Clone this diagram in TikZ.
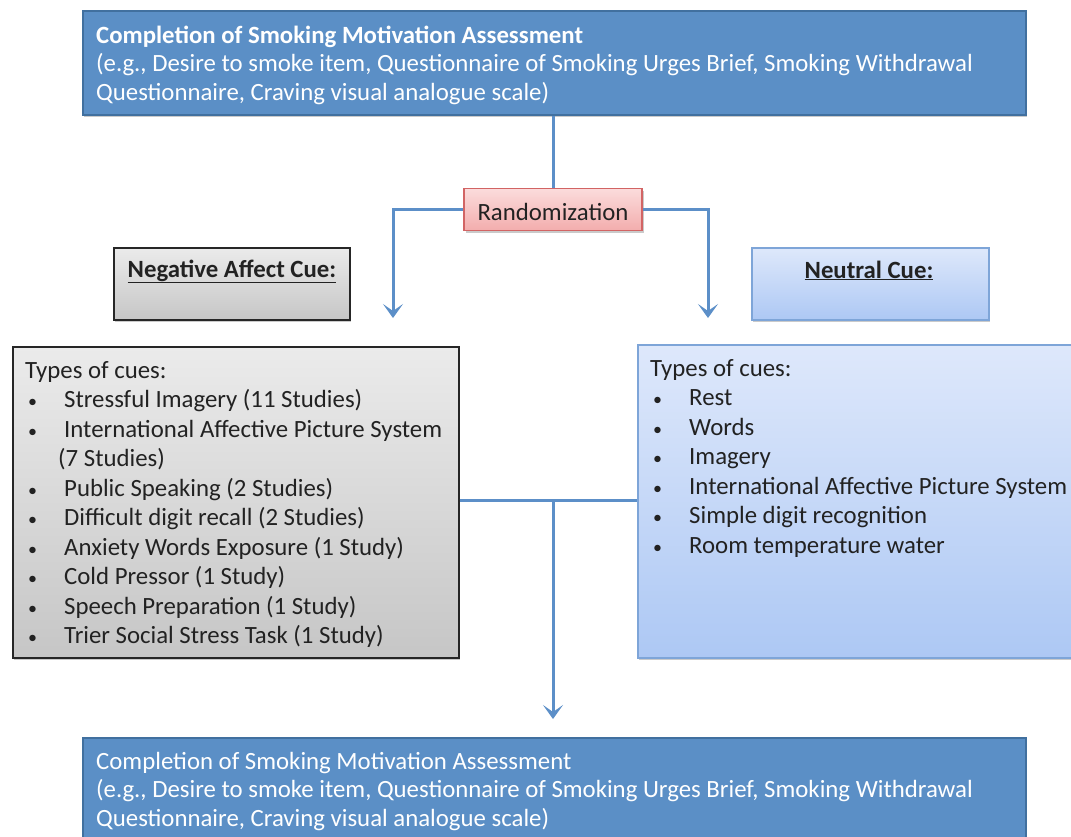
\documentclass[tikz,border=0pt]{standalone}
\usepackage{fontspec}
\setmainfont{Carlito}
\usetikzlibrary{arrows.meta,shadows}
\definecolor{topblue}{HTML}{5B8FC6}
\definecolor{topblueb}{HTML}{41709F}
\definecolor{linkblue}{HTML}{5C8FC8}
\definecolor{txt}{HTML}{222222}
\definecolor{grayT}{HTML}{EBEBEB}
\definecolor{grayB}{HTML}{C6C6C6}
\definecolor{neuT}{HTML}{DEE8FB}
\definecolor{neuB}{HTML}{ADC8F4}
\definecolor{neuD}{HTML}{7EA5D8}
\definecolor{rndT}{HTML}{FBDCDC}
\definecolor{rndB}{HTML}{F3ADAD}
\definecolor{rndD}{HTML}{D26464}
\tikzset{
  boxshadow/.style={drop shadow={shadow xshift=1.5pt,shadow yshift=-2pt,opacity=0.35,fill=black!60}},
  assessbox/.style={draw=topblueb,line width=1.5pt,fill=topblue,boxshadow,inner sep=0pt,anchor=north west},
  graybox/.style={draw=black!85,line width=1.5pt,top color=grayT,bottom color=grayB,boxshadow,inner sep=0pt,anchor=north west},
  neubox/.style={draw=neuD,line width=1.5pt,top color=neuT,bottom color=neuB,boxshadow,inner sep=0pt,anchor=north west},
  rndbox/.style={draw=rndD,line width=1.2pt,top color=rndT,bottom color=rndB,boxshadow,inner sep=0pt},
  txtnode/.style={inner sep=0pt,anchor=base west,font=\fontsize{24.8}{29.5}\selectfont},
  link/.style={draw=linkblue,line width=3pt},
  linkarrow/.style={link,-{Stealth[length=14pt,width=20pt,inset=7pt]}},
}
\newcommand{\bul}[1]{\hspace*{3pt}\makebox[36pt][l]{\fontsize{18}{18}\selectfont •}#1}
\begin{document}
\begin{tikzpicture}[x=1pt,y=-1pt]
\useasboundingbox (0,0) rectangle (1071,836);
% boxes
\node[assessbox,minimum width=943pt,minimum height=104pt] (top) at (82,10) {};
\node[rndbox,minimum width=178pt,minimum height=42pt] (rnd) at (553,209.5) {};
\node[graybox,minimum width=236pt,minimum height=72pt] (neg) at (113,247) {};
\node[neubox,minimum width=237pt,minimum height=72pt] (neu) at (751,247) {};
\node[graybox,minimum width=446pt,minimum height=311pt] (negl) at (12,346) {};
\node[neubox,minimum width=460pt,minimum height=313pt] (neul) at (637,344) {};
\node[assessbox,minimum width=943pt,minimum height=120pt] (bot) at (82,737) {};
% texts
\node[txtnode,text=white] (toptxt) at (96,43) {\parbox[t]{925pt}{\fontsize{24.8}{28.5}\selectfont\textbf{Completion of Smoking Motivation Assessment}\\(e.g., Desire to smoke item, Questionnaire of Smoking Urges Brief, Smoking Withdrawal\\Questionnaire, Craving visual analogue scale)}};
\node[txtnode,text=txt,anchor=base] (rndtxt) at (553,220) {Randomization};
\node[txtnode,text=txt,anchor=base] (negtxt) at (232,277) {\textbf{\underline{Negative Affect Cue:}}};
\node[txtnode,text=txt,anchor=base] (neutxt) at (869,278) {\textbf{\underline{Neutral Cue:}}};
\node[txtnode,text=txt] (negltxt) at (25,378) {\parbox[t]{440pt}{\fontsize{24.8}{29.5}\selectfont Types of cues:\\
\bul{Stressful Imagery (11 Studies)}\\
\bul{International Affective Picture System}\\
\hspace*{33pt}(7 Studies)\\
\bul{Public Speaking (2 Studies)}\\
\bul{Difficult digit recall (2 Studies)}\\
\bul{Anxiety Words Exposure (1 Study)}\\
\bul{Cold Pressor (1 Study)}\\
\bul{Speech Preparation (1 Study)}\\
\bul{Trier Social Stress Task (1 Study)}}};
\node[txtnode,text=txt] (neultxt) at (650,376) {\parbox[t]{440pt}{\fontsize{24.8}{29.5}\selectfont Types of cues:\\
\bul{Rest}\\
\bul{Words}\\
\bul{Imagery}\\
\bul{International Affective Picture System}\\
\bul{Simple digit recognition}\\
\bul{Room temperature water}}};
\node[txtnode,text=white] (bottxt) at (96,769) {\parbox[t]{925pt}{\fontsize{24.8}{28.5}\selectfont Completion of Smoking Motivation Assessment\\(e.g., Desire to smoke item, Questionnaire of Smoking Urges Brief, Smoking Withdrawal\\Questionnaire, Craving visual analogue scale)}};
% connectors
\coordinate (lt) at (393,318);
\coordinate (rt) at (708,318);
\coordinate (mid) at (553,500);
\path[link] (top.south -| rnd.north) -- (rnd.north);
\path[linkarrow] (rnd.west) -| (lt);
\path[linkarrow] (rnd.east) -| (rt);
\path[link] (negl.east |- mid) -- (neul.west |- mid);
\path[linkarrow] (mid) -- (mid |- 0,719);
\end{tikzpicture}
\end{document}
